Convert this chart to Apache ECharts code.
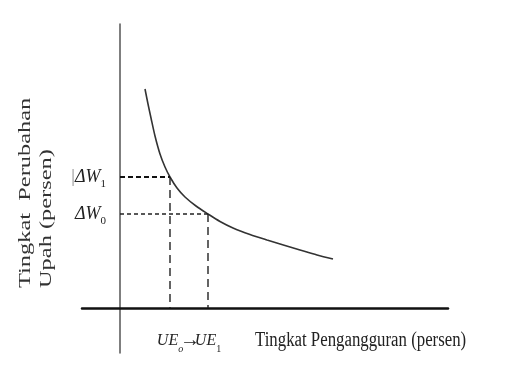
<!DOCTYPE html>
<html>
<head>
<meta charset="utf-8">
<script src="https://cdn.jsdelivr.net/npm/echarts@6/dist/echarts.min.js"></script>
<style>
html,body{margin:0;padding:0;background:#fff;}
#chart{width:513px;height:386px;}
</style>
</head>
<body>
<div id="chart"></div>
<script>
// Phillips curve (abstract units)
var curveX = [25, 28, 31, 35, 40, 45, 50, 57, 65, 76, 88, 100, 113, 130, 147, 165, 180, 197, 213];
var curveY = [219, 204, 190, 172, 154, 141, 131, 120, 111, 102, 94, 86.5, 80, 73.5, 68, 62.5, 58, 53, 49];
var ueValues = [50, 88];        // UE0, UE1
var dwValues = [131, 94];       // ΔW1, ΔW0
var ueLabels = ['o', '1'];
var dwLabels = ['1', '0'];
var xTitle = 'Tingkat Pengangguran (persen)';
var yTitleLines = ['Tingkat  Perubahan', 'Upah (persen)'];

var serif = '"Liberation Serif", "Times New Roman", serif';
var X_MIN = -38, X_MAX = 328;

var curveData = curveX.map(function (x, i) { return [x, curveY[i]]; });

function dashSeries(data, width, dash, color) {
  return {
    type: 'line', data: data, symbol: 'none', silent: true,
    lineStyle: { color: color, width: width, type: dash }
  };
}

var chart = echarts.init(document.getElementById('chart'));
chart.setOption({
  backgroundColor: '#fff',
  animation: false,
  grid: { left: 82, right: 65, top: 24, bottom: 33 },
  xAxis: [{
    type: 'value', min: X_MIN, max: X_MAX, position: 'bottom',
    splitLine: { show: false },
    axisTick: { show: false },
    axisLine: { onZero: true, lineStyle: { color: '#111', width: 2.5 } },
    axisLabel: {
      customValues: ueValues.slice(),
      margin: -25,
      showMinLabel: true, showMaxLabel: true, hideOverlap: false,
      fontFamily: serif, color: '#222',
      formatter: function (v) {
        var i = ueValues.indexOf(+v);
        return '{m|UE}{' + (i === 0 ? 'si' : 's') + '|' + ueLabels[i] + '}';
      },
      rich: {
        m: { fontSize: 16, fontStyle: 'italic', fontFamily: serif, color: '#222', lineHeight: 26, verticalAlign: 'middle' },
        s: { fontSize: 10, fontFamily: serif, color: '#222', lineHeight: 26, verticalAlign: 'bottom' },
        si: { fontSize: 10, fontStyle: 'italic', fontFamily: serif, color: '#222', lineHeight: 26, verticalAlign: 'bottom' }
      }
    }
  }, {
    // carries only the arrow between UE0 and UE1
    type: 'value', min: X_MIN, max: X_MAX, position: 'bottom',
    splitLine: { show: false },
    axisTick: { show: false },
    axisLine: { show: false, onZero: false },
    axisLabel: {
      customValues: [(ueValues[0] + ueValues[1]) / 2 + 1],
      margin: -25,
      showMinLabel: true, showMaxLabel: true,
      formatter: function () { return '{a|→}'; },
      rich: {
        a: { fontSize: 20, fontFamily: serif, color: '#222', lineHeight: 26, verticalAlign: 'middle' }
      }
    }
  }],
  yAxis: {
    type: 'value', min: -45, max: 284,
    splitLine: { show: false },
    axisTick: { show: false },
    axisLine: { onZero: true, lineStyle: { color: '#555', width: 1.5 } },
    axisLabel: {
      customValues: dwValues.slice(),
      margin: -24,
      showMinLabel: true, showMaxLabel: true, hideOverlap: false,
      fontFamily: serif, color: '#222',
      formatter: function (v) {
        var i = dwValues.indexOf(+v);
        return (i === 0 ? '{b||}' : '') + '{m|ΔW}{s|' + dwLabels[i] + '}';
      },
      rich: {
        b: { fontSize: 18, fontFamily: serif, color: '#888', lineHeight: 26, verticalAlign: 'middle' },
        m: { fontSize: 18, fontStyle: 'italic', fontFamily: serif, color: '#222', lineHeight: 26, verticalAlign: 'middle' },
        s: { fontSize: 11, fontFamily: serif, color: '#222', lineHeight: 26, verticalAlign: 'bottom' }
      }
    }
  },
  series: [
    {
      type: 'line', data: curveData, smooth: 0.3, symbol: 'none', silent: true,
      lineStyle: { color: '#333', width: 1.6 }
    },
    dashSeries([[0, dwValues[0]], [ueValues[0], dwValues[0]]], 2, [5, 3], '#111'),
    dashSeries([[0, dwValues[1]], [ueValues[1], dwValues[1]]], 1.4, [4, 3], '#222'),
    dashSeries([[ueValues[0], dwValues[0]], [ueValues[0], 0]], 1.4, [8, 5], '#222'),
    dashSeries([[ueValues[1], dwValues[1]], [ueValues[1], 0]], 1.4, [8, 5], '#222')
  ],
  graphic: [
    {
      type: 'text', x: 255, y: 341, scaleX: 0.84, scaleY: 1,
      style: { text: xTitle, font: '20px ' + serif, fill: '#222', textAlign: 'left', textVerticalAlign: 'middle' }
    },
    {
      type: 'text', x: 26, y: 288, rotation: Math.PI / 2, scaleX: 1.22, scaleY: 0.84,
      style: { text: yTitleLines[0], font: '20px ' + serif, fill: '#333', textAlign: 'left', textVerticalAlign: 'middle' }
    },
    {
      type: 'text', x: 47, y: 288, rotation: Math.PI / 2, scaleX: 1.22, scaleY: 0.84,
      style: { text: yTitleLines[1], font: '20px ' + serif, fill: '#333', textAlign: 'left', textVerticalAlign: 'middle' }
    }
  ]
});
</script>
</body>
</html>
